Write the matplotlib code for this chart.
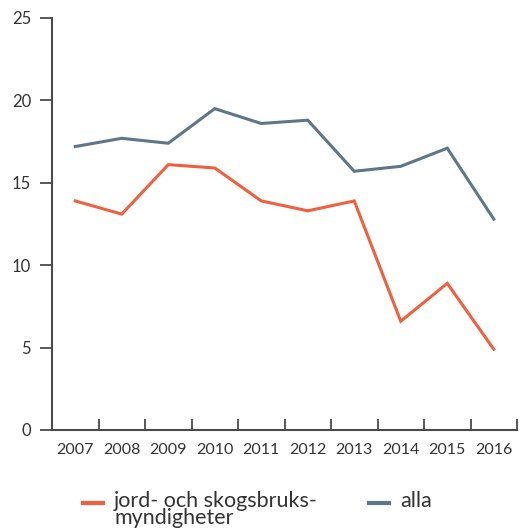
import numpy as np
import matplotlib.pyplot as plt
from matplotlib.lines import Line2D

plt.rcParams['font.family'] = ['Lato', 'DejaVu Sans']

years = ['2007', '2008', '2009', '2010', '2011', '2012', '2013', '2014', '2015', '2016']
jord_skog = [13.9, 13.1, 16.1, 15.9, 13.9, 13.3, 13.9, 6.6, 8.9, 4.9]
alla = [17.2, 17.7, 17.4, 19.5, 18.6, 18.8, 15.7, 16.0, 17.1, 12.8]
y_ticks = [0, 5, 10, 15, 20, 25]

orange = '#f0603f'
slate = '#5e7689'
axis_col = '#4a4a4a'
text_col = '#333333'

W, H = 520, 528
fig = plt.figure(figsize=(W / 100, H / 100), dpi=100)
ax = fig.add_axes([52 / W, 1 - 430 / H, 465 / W, 412 / H])

x = np.arange(len(years))
ax.plot(x, jord_skog, color=orange, lw=2.2, solid_joinstyle='miter')
ax.plot(x, alla, color=slate, lw=2.2, solid_joinstyle='miter')

ax.set_xlim(-0.5, len(years) - 0.5)
ax.set_ylim(0, 25)

# category boundaries get the tick marks, labels sit in the middle
ax.set_xticks(np.arange(-0.5, len(years)), labels=[''] * (len(years) + 1))
ax.set_xticks(x, labels=years, minor=True)
ax.tick_params(axis='x', which='major', direction='in', length=8, width=1.3, color=axis_col)
ax.tick_params(axis='x', which='minor', length=0, pad=9, labelsize=11.5, labelcolor=text_col)

ax.set_yticks(y_ticks)
ax.tick_params(axis='y', direction='out', length=9, width=1.3, color=axis_col,
               pad=6, labelsize=12, labelcolor=text_col)

for side in ['top', 'right']:
    ax.spines[side].set_visible(False)
for side in ['left', 'bottom']:
    ax.spines[side].set_color(axis_col)
    ax.spines[side].set_linewidth(1.5)

# legend below the plot, keys level with the first text line
def legend_entry(x0, x1, xt, color, label):
    y = 1 - 503 / H
    fig.add_artist(Line2D([x0 / W, x1 / W], [y, y], color=color, lw=3,
                          transform=fig.transFigure))
    fig.text(xt / W, 1 - 491 / H, label, fontsize=15.5, color=text_col,
             ha='left', va='top', linespacing=0.8)

legend_entry(83, 103, 114, orange, 'jord- och skogsbruks-\nmyndigheter')
legend_entry(369, 389, 400, slate, 'alla')

fig.savefig('out.png', dpi=100)
